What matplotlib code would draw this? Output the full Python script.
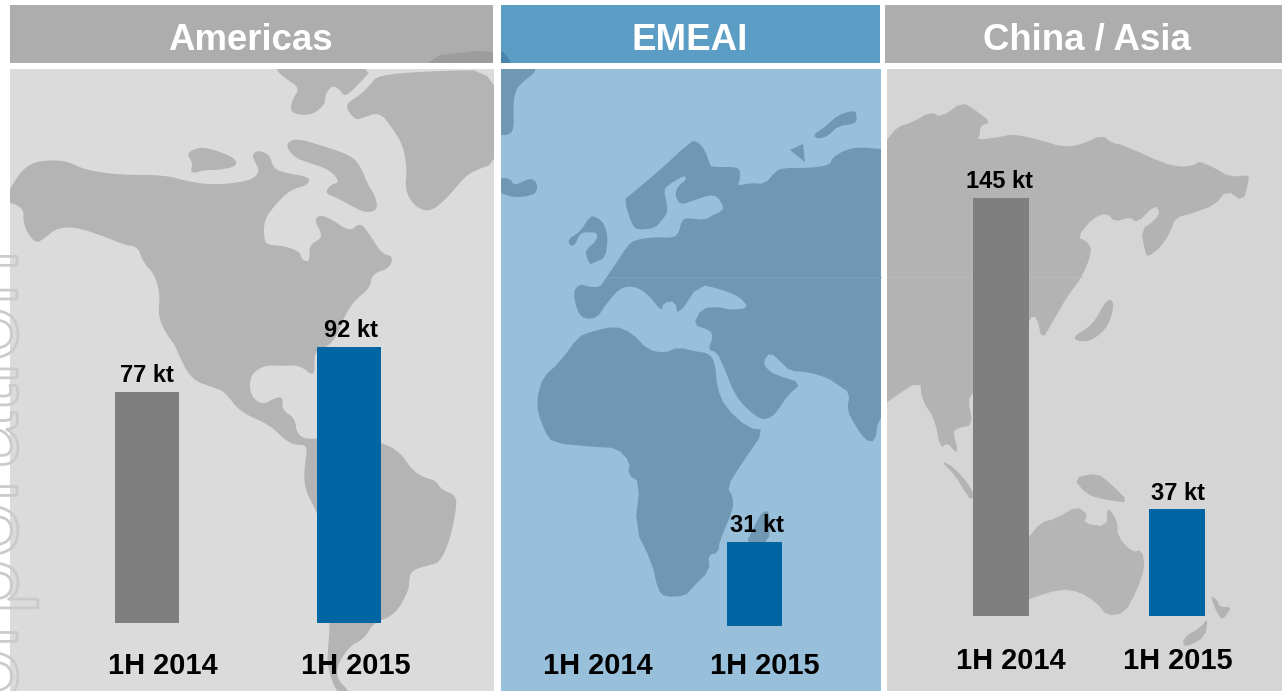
import matplotlib
matplotlib.use("Agg")
import matplotlib.pyplot as plt
import matplotlib.patheffects as pe
from matplotlib.patches import Polygon, Rectangle
import numpy as np

# ---- data ----
regions = ["Americas", "EMEAI", "China / Asia"]
periods = ["1H 2014", "1H 2015"]
americas_kt = [77, 92]
emeai_kt = [None, 31]
china_asia_kt = [145, 37]
unit = "kt"

W, H = 1282, 691
plt.rcParams["font.family"] = ["Liberation Sans", "DejaVu Sans"]
fig = plt.figure(figsize=(W / 100, H / 100), dpi=100, facecolor="white")

bg = fig.add_axes([0, 0, 1, 1], zorder=0)
bg.set_xlim(0, W); bg.set_ylim(H, 0); bg.axis("off")


def smooth(pts, n=2):
    p = np.asarray(pts, float)
    for _ in range(n):
        q = np.roll(p, -1, axis=0)
        p = np.column_stack([0.75 * p + 0.25 * q, 0.25 * p + 0.75 * q]).reshape(-1, 2)
    return p


def land(pts, color, clip, n=2):
    patch = Polygon(smooth(pts, n), closed=True, fc=color, ec="none")
    bg.add_patch(patch)
    patch.set_clip_path(clip)


# ---- panels ----
am_bg = Rectangle((10, 69), 484, 622, fc="#DBDBDB", ec="none")
em_bg = Rectangle((501, 69), 380, 622, fc="#99C0DB", ec="none")
ch_bg = Rectangle((887, 69), 395, 622, fc="#D5D5D5", ec="none")
for r in (am_bg, em_bg, ch_bg):
    bg.add_patch(r)

bg.add_patch(Rectangle((10, 5), 483, 58, fc="#ADADAD", ec="none"))
bg.add_patch(Rectangle((501, 5), 379, 58, fc="#5B9DC5", ec="none"))
bg.add_patch(Rectangle((885, 5), 397, 58, fc="#ADADAD", ec="none"))
bg.add_patch(Polygon([(428, 63), (440, 55), (475, 51), (493, 52), (493, 63)], fc="#9C9C9C", ec="none"))
bg.add_patch(Polygon([(501, 52), (503, 52), (510, 60), (510, 63), (501, 63)], fc="#4A84A8", ec="none"))

AM, EM, CH = "#B4B4B4", "#7198B3", "#B3B3B3"

# decorative map: Americas
land([(0, 200), (5, 198), (20, 172), (35, 161), (65, 160), (85, 170), (120, 175), (165, 175), (190, 182), (215, 185),
      (250, 181), (260, 172), (255, 162), (252, 155), (258, 150), (270, 155), (273, 168), (285, 173), (310, 177),
      (308, 185), (290, 190), (275, 205), (264, 220), (264, 240), (268, 245), (285, 246), (300, 252), (302, 260),
      (310, 262), (309, 245), (322, 238), (320, 230), (315, 222), (318, 215), (330, 218), (350, 232), (360, 222),
      (370, 235), (382, 254), (393, 256), (390, 268), (372, 274), (370, 288), (355, 300), (345, 315), (335, 340),
      (322, 350), (314, 353), (315, 378), (300, 365), (280, 366), (265, 365), (250, 375), (250, 395), (262, 405),
      (275, 398), (283, 397), (282, 410), (295, 418), (297, 435), (310, 440), (340, 435), (381, 442), (400, 452),
      (412, 470), (425, 478), (435, 480), (442, 490), (455, 495), (457, 505), (450, 540), (440, 562), (430, 565),
      (412, 570), (409, 580), (409, 590), (395, 615), (373, 623), (365, 638), (347, 648), (333, 675), (353, 695),
      (337, 695), (327, 665), (328, 650), (330, 623), (325, 540), (317, 512), (305, 490), (304, 470), (308, 445),
      (295, 445), (285, 440), (270, 425), (240, 412), (225, 392), (215, 388), (192, 380), (180, 358), (175, 345),
      (165, 332), (158, 315), (160, 295), (155, 275), (143, 262), (138, 247), (125, 245), (100, 235), (75, 227),
      (57, 228), (45, 238), (35, 244), (23, 225), (24, 207)], AM, am_bg)
land([(344, 105), (360, 95), (370, 85), (378, 75), (430, 71), (500, 70), (500, 162), (470, 172), (458, 185),
      (445, 200), (430, 212), (415, 207), (405, 190), (407, 170), (403, 145), (392, 128), (380, 112), (362, 118),
      (355, 120)], AM, am_bg)
land([(277, 66), (277, 71), (285, 78), (300, 88), (292, 100), (290, 113), (310, 116), (325, 105), (325, 95), (332, 85),
      (340, 90), (345, 97), (358, 85), (375, 66)], AM, am_bg)
land([(285, 145), (295, 138), (320, 145), (350, 155), (360, 165), (368, 185), (375, 195), (378, 210), (365, 213),
      (350, 205), (335, 197), (325, 193), (330, 185), (340, 182), (330, 170), (310, 163), (295, 158)], AM, am_bg)
land([(186, 153), (200, 147), (215, 150), (235, 158), (237, 166), (220, 170), (205, 170), (190, 174), (193, 163)], AM, am_bg)

# decorative map: EMEAI
land([(495, 62), (535, 62), (536, 72), (525, 80), (515, 90), (513, 110), (514, 125), (511, 135), (495, 135)], EM, em_bg)
land([(495, 178), (510, 178), (514, 186), (530, 178), (537, 182), (537, 193), (525, 197), (510, 197), (495, 190)], EM, em_bg)
land([(568, 239), (580, 232), (590, 216), (597, 217), (605, 225), (608, 240), (605, 258), (595, 262), (590, 265),
      (586, 255), (586, 250), (597, 240), (597, 233), (590, 232), (580, 233), (575, 245), (570, 246)], EM, em_bg, 1)
land([(573, 293), (579, 284), (590, 287), (600, 287), (606, 278), (615, 265), (628, 245), (635, 240), (655, 237),
      (670, 238), (678, 235), (682, 220), (687, 218), (705, 220), (713, 215), (720, 212), (724, 208), (718, 197),
      (710, 195), (695, 200), (680, 205), (675, 195), (678, 186), (686, 180), (685, 175), (668, 185), (664, 190),
      (666, 200), (668, 212), (662, 220), (655, 228), (638, 230), (632, 225), (624, 200), (630, 195), (660, 170),
      (690, 142), (697, 141), (705, 150), (710, 165), (712, 167), (735, 167), (740, 170), (740, 180), (737, 186),
      (750, 183), (765, 184), (775, 172), (782, 168), (810, 168), (830, 165), (832, 158), (845, 150), (860, 147),
      (890, 150), (890, 410), (878, 420), (875, 442), (865, 440), (855, 425), (847, 410), (850, 393), (838, 385),
      (828, 378), (808, 372), (790, 371), (782, 363), (770, 352), (763, 362), (768, 370), (776, 375), (802, 383),
      (788, 395), (778, 410), (772, 417), (762, 420), (748, 410), (735, 395), (725, 370), (717, 352), (708, 350),
      (713, 337), (710, 330), (693, 325), (702, 308), (720, 307), (730, 310), (749, 308), (740, 297), (723, 290),
      (699, 284), (678, 316), (675, 301), (663, 303), (662, 312), (647, 293), (633, 286), (620, 288), (607, 303),
      (597, 318), (585, 319), (578, 313)], EM, em_bg, 1)
land([(537, 398), (543, 377), (560, 362), (578, 337), (590, 332), (615, 326), (632, 333), (648, 350), (665, 353),
      (678, 347), (698, 352), (708, 353), (715, 362), (717, 387), (725, 407), (748, 428), (765, 430), (742, 463),
      (727, 487), (733, 497), (733, 510), (720, 540), (718, 553), (708, 555), (710, 570), (692, 588), (685, 596),
      (665, 597), (658, 590), (652, 563), (635, 528), (640, 482), (628, 475), (630, 462), (617, 448), (595, 447),
      (553, 443), (545, 432), (538, 413)], EM, em_bg, 1)
land([(745, 545), (755, 525), (762, 512), (770, 511), (769, 545)], EM, em_bg, 1)
land([(813, 135), (825, 127), (838, 115), (855, 110), (857, 118), (855, 124), (838, 126), (828, 136), (818, 139)], EM, em_bg, 1)
land([(790, 150), (803, 144), (805, 162)], EM, em_bg, 0)
bg.plot([608, 881], [277, 277], color="#7FA4BD", lw=0.6)

# decorative map: China / Asia
land([(880, 148), (887, 140), (897, 127), (913, 122), (930, 112), (942, 117), (962, 102), (975, 110), (991, 122), (980, 126),
      (980, 135), (977, 140), (1000, 137), (1013, 134), (1040, 140), (1063, 147), (1080, 145), (1102, 135),
      (1112, 143), (1123, 145), (1163, 163), (1180, 167), (1195, 165), (1198, 161), (1213, 167), (1230, 177),
      (1248, 175), (1249, 180), (1243, 202), (1227, 190), (1215, 205), (1193, 213), (1175, 218), (1170, 233),
      (1160, 248), (1148, 257), (1145, 252), (1141, 230), (1155, 220), (1160, 212), (1155, 205), (1137, 223),
      (1130, 217), (1115, 222), (1107, 213), (1093, 218), (1077, 237), (1088, 242), (1092, 252), (1082, 277),
      (1067, 297), (1052, 323), (1042, 340), (1037, 317), (1030, 317), (1000, 380), (973, 393), (968, 400),
      (973, 425), (958, 428), (953, 432), (958, 450), (955, 452), (948, 443), (940, 448), (935, 420), (922, 400),
      (920, 380), (887, 402), (880, 408)], CH, ch_bg, 1)
land([(1072, 337), (1093, 325), (1107, 298), (1115, 303), (1108, 327), (1093, 340), (1080, 342)], CH, ch_bg)
land([(940, 460), (955, 468), (973, 490), (973, 500), (968, 497), (955, 475)], CH, ch_bg, 1)
land([(1073, 478), (1097, 473), (1110, 483), (1130, 503), (1107, 500), (1087, 495)], CH, ch_bg, 1)
land([(1015, 550), (1029, 537), (1040, 523), (1057, 518), (1077, 506), (1088, 515), (1083, 523), (1107, 527),
      (1107, 506), (1117, 520), (1118, 537), (1132, 552), (1142, 550), (1145, 567), (1137, 590), (1125, 613),
      (1107, 616), (1097, 603), (1080, 592), (1060, 589), (1029, 599), (1015, 605)], "#B5B5B5", ch_bg, 1)
land([(1210, 595), (1217, 600), (1220, 607), (1231, 607), (1228, 613), (1222, 620), (1217, 613)], CH, ch_bg, 1)
land([(1208, 618), (1205, 637), (1187, 647), (1182, 643), (1187, 635), (1200, 628)], CH, ch_bg, 1)
bg.plot([887, 1082], [277, 277], color="#BBBBBB", lw=0.6)


# ---- bars ----
GREY, BLUE = "#7F7F7F", "#0066A3"


def panel(values, rect, x0, dx, width_px, baseline, ppk, label_dx):
    left, right, top, bottom = rect
    ax = fig.add_axes([left / W, 1 - bottom / H, (right - left) / W, (bottom - top) / H], zorder=2)
    ax.patch.set_alpha(0)
    ax.axis("off")
    ax.set_xlim((left - x0) / dx, (right - x0) / dx)
    ax.set_ylim((baseline - bottom) / ppk, (baseline - top) / ppk)
    for i, (v, c) in enumerate(zip(values, (GREY, BLUE))):
        if v is None:
            continue
        ax.bar(i, v, width=width_px / dx, color=c, linewidth=0)
        ax.annotate(f"{v} {unit}", (i, v), xytext=(label_dx[i] * 0.72, 7.0),
                    textcoords="offset points", ha="center", va="baseline",
                    fontsize=17, fontweight="bold", color="black", zorder=5)
    return ax


panel(americas_kt, (10, 494, 69, 691), 147, 202, 64, 623, 3.0, (0, 2))
panel(emeai_kt, (501, 881, 69, 691), 587.5, 167, 55, 626, 84 / 31, (0, 2.5))
panel(china_asia_kt, (887, 1282, 69, 691), 1001, 176, 56, 616, 418 / 145, (-1, 1))

# ---- text ----
top = fig.add_axes([0, 0, 1, 1], zorder=3)
top.set_xlim(0, W); top.set_ylim(H, 0); top.axis("off"); top.patch.set_alpha(0)

for name, cx in zip(regions, (250.5, 690, 1087)):
    top.text(cx, 36, name, ha="center", va="center_baseline", color="white", fontsize=26.4, fontweight="bold")

label_x = (163, 356, 598, 765, 1011, 1178)
label_y = (663, 663, 663, 663, 658, 658)
for i, (cx, cy) in enumerate(zip(label_x, label_y)):
    top.text(cx, cy, periods[i % 2], ha="center", va="center_baseline", color="black", fontsize=20.9, fontweight="bold")

# faint rotated outline watermark, cut off by the left edge
top.text(17, 755, "corporation", rotation=90, rotation_mode="anchor", ha="left", va="baseline",
         fontsize=72.7, color=(1, 1, 1, 0), clip_on=False,
         path_effects=[pe.Stroke(linewidth=2.0, foreground="#CBCBCB")])

fig.savefig("out.png", dpi=100)
